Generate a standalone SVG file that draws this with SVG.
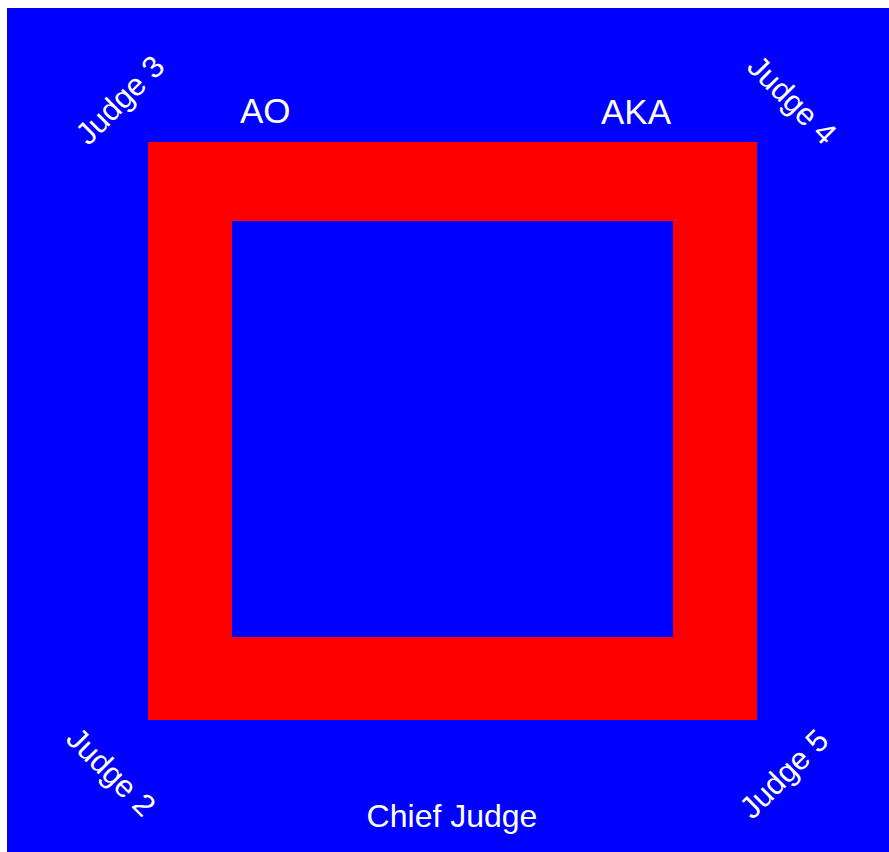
<svg xmlns="http://www.w3.org/2000/svg" width="889" height="852" viewBox="0 0 889 852">
<style>
.t{font-family:"Liberation Sans",Arial,sans-serif;fill:#fff}
.j{font-size:31px;text-anchor:middle;dominant-baseline:central}
</style>
<rect x="0" y="0" width="889" height="852" fill="#fff"/>
<rect x="7" y="8" width="882" height="844" fill="#0000ff"/>
<g id="ring">
<rect x="148" y="142" width="609" height="578" fill="#ff0000"/>
<rect x="232" y="221" width="441" height="416" fill="#0000ff"/>
</g>
<g id="ao"><text class="t" x="240" y="123" font-size="35">AO</text></g>
<g id="aka"><text class="t" x="601" y="124" font-size="35">AKA</text></g>
<g id="chief"><text class="t" x="452" y="827" font-size="32" text-anchor="middle">Chief Judge</text></g>
<g id="judge3"><text class="t j" transform="translate(120,100) rotate(-45)">Judge 3</text></g>
<g id="judge4"><text class="t j" transform="translate(792,100) rotate(45)">Judge 4</text></g>
<g id="judge2"><text class="t j" transform="translate(111,772) rotate(45)">Judge 2</text></g>
<g id="judge5"><text class="t j" transform="translate(784,774) rotate(-45)">Judge 5</text></g>
</svg>
